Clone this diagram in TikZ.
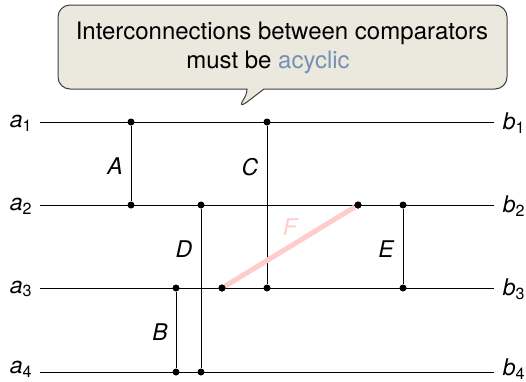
\documentclass[tikz,border=0pt]{standalone}
\usepackage{fontspec}
\setmainfont{TeX Gyre Heros}
\definecolor{notefill}{HTML}{EBE8DD}
\definecolor{noteblue}{HTML}{7590B5}
\definecolor{fadepink}{HTML}{FFCCCC}
\begin{document}
\begin{tikzpicture}[x=1pt, y=-1pt, line width=0.9pt,
  dot/.style={circle, fill=black, inner sep=0pt, minimum size=7pt},
  wirelabel/.style={font=\fontsize{23}{26}\selectfont\itshape, inner sep=0pt},
  gatelabel/.style={font=\fontsize{23}{26}\selectfont\itshape, inner sep=0pt}]
  \useasboundingbox (0,0) rectangle (526,381);
  % wires
  \foreach \i/\y/\ly in {1/122/123, 2/205/206, 3/288/289, 4/372/369} {
    \node[wirelabel] (a\i) at (21,\ly) {a\textup{\textsubscript{\i}}};
    \node[wirelabel] (b\i) at (514,\ly) {b\textup{\textsubscript{\i}}};
    \coordinate (l\i) at (40,\y);
    \coordinate (r\i) at (494,\y);
    \draw (l\i) -- (r\i);
  }
  % comparators
  \node[dot] (A1) at (131,122) {};
  \node[dot] (A2) at (131,205) {};
  \node[dot] (B1) at (176,288) {};
  \node[dot] (B2) at (176,372) {};
  \node[dot] (C1) at (267,122) {};
  \node[dot] (C2) at (267,288) {};
  \node[dot] (D1) at (201,205) {};
  \node[dot] (D2) at (201,372) {};
  \node[dot] (E1) at (403,205) {};
  \node[dot] (E2) at (403,288) {};
  \node[dot] (F1) at (358,205) {};
  \node[dot] (F2) at (222,288) {};
  \draw (A1) -- (A2);
  \draw (B1) -- (B2);
  \draw (C1) -- (C2);
  \draw (D1) -- (D2);
  \draw (E1) -- (E2);
  \draw[fadepink, line width=5pt] (F2) -- (F1);
  \node[dot] at (F1) {};
  \node[dot] at (F2) {};
  \node[gatelabel] (Alabel) at (115,166) {A};
  \node[gatelabel] (Blabel) at (160,332) {B};
  \node[gatelabel] (Clabel) at (250,167) {C};
  \node[gatelabel] (Dlabel) at (184,249) {D};
  \node[gatelabel] (Elabel) at (386,249) {E};
  \node[gatelabel, fadepink] (Flabel) at (290,227) {F};
  % callout
  \draw[fill=notefill, line width=1pt, draw=black!75]
    (70,5) -- (495,5) arc[start angle=-90, end angle=0, radius=12]
    -- (507,77) arc[start angle=0, end angle=90, radius=12]
    -- (264,89) -- (247,102) .. controls (243,105) and (240,106) .. (242,102)
    .. controls (245,97) and (247,94) .. (247,89)
    -- (70,89) arc[start angle=90, end angle=180, radius=12]
    -- (58,17) arc[start angle=180, end angle=270, radius=12] -- cycle;
  \node[font=\fontsize{24}{29}\selectfont, align=center, inner sep=0pt] (note) at (282,47.5)
    {Interconnections between comparators\\
     must be \textcolor{noteblue}{acyclic}\hspace*{28pt}};
\end{tikzpicture}
\end{document}
